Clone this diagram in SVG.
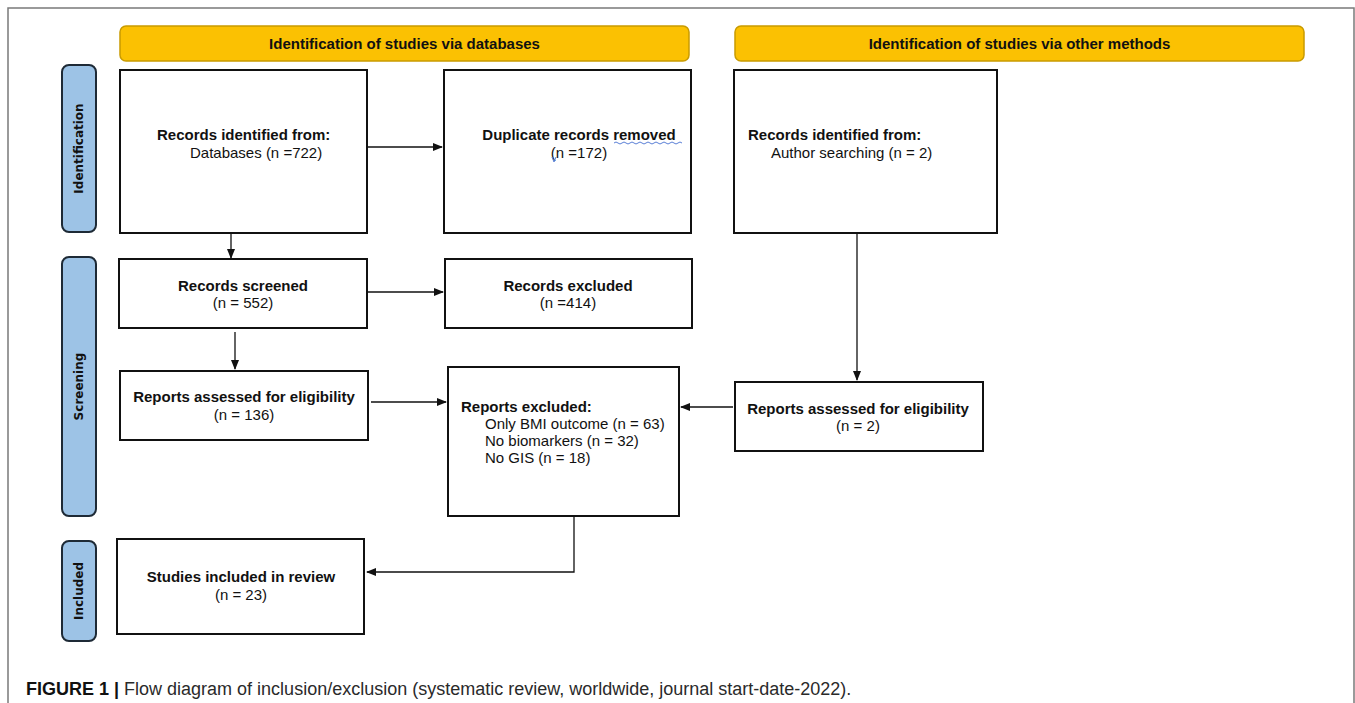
<svg xmlns="http://www.w3.org/2000/svg" width="1355" height="703" viewBox="0 0 1355 703">
<style>
.frame{fill:none;stroke:#7a7a7a;stroke-width:1.5}
.hdr{fill:#FBC102;stroke:#C99B00;stroke-width:1.5}
.side{fill:#9DC3E6;stroke:#1e2a36;stroke-width:2}
.box{fill:#fff;stroke:#111;stroke-width:2}
.con{fill:none;stroke:#111;stroke-width:1.3}
.t{font-family:"Liberation Sans",Arial,sans-serif;font-size:15px;fill:#111}
.b{font-weight:bold}
.m{text-anchor:middle}
.sl{font-family:"DejaVu Sans",sans-serif;font-size:12px;font-weight:bold;fill:#111;text-anchor:middle}
.cap{font-family:"Liberation Sans",Arial,sans-serif;font-size:18px;fill:#2a2a2a}
.sq{fill:none;stroke:#5a7fd6;stroke-width:1}
</style>
<defs>
<marker id="ah" markerWidth="10" markerHeight="8" refX="9" refY="4" orient="auto" markerUnits="userSpaceOnUse">
<path d="M0,0 L10,4 L0,8 z" fill="#111"/>
</marker>
</defs>
<rect width="1355" height="703" fill="#fff"/>
<path class="frame" d="M8,703 L8,8 L1354,8 L1354,703"/>

<g id="hdr-databases">
<rect class="hdr" x="120" y="26" width="569" height="35" rx="6"/>
<text class="t b m" x="404.5" y="49">Identification of studies via databases</text>
</g>
<g id="hdr-other">
<rect class="hdr" x="735" y="26" width="569" height="35" rx="6"/>
<text class="t b m" x="1019.5" y="49">Identification of studies via other methods</text>
</g>

<g id="side-identification">
<rect class="side" x="62" y="65" width="34" height="167" rx="7"/>
<text class="sl" x="79" y="152.5" transform="rotate(-90 79 148.5)">Identification</text>
</g>
<g id="side-screening">
<rect class="side" x="62" y="257" width="34" height="259" rx="7"/>
<text class="sl" x="79" y="390.5" transform="rotate(-90 79 386.5)">Screening</text>
</g>
<g id="side-included">
<rect class="side" x="62" y="541" width="34" height="100" rx="7"/>
<text class="sl" x="79" y="595" transform="rotate(-90 79 591)">Included</text>
</g>

<g id="records-identified">
<rect class="box" x="120" y="70" width="247" height="163"/>
<text class="t b" x="157" y="140">Records identified from:</text>
<text class="t" x="190" y="158">Databases (n =722)</text>
</g>
<g id="duplicates-removed">
<rect class="box" x="444" y="70" width="247" height="163"/>
<text class="t b m" x="579" y="140">Duplicate records removed</text>
<text class="t m" x="579" y="158">(n =172)</text>
<path class="sq" d="M614,143 q2,-2 4,0 t4,0 t4,0 t4,0 t4,0 t4,0 t4,0 t4,0 t4,0 t4,0 t4,0 t4,0 t4,0 t4,0 t4,0 t4,0 t4,0"/>
<path class="sq" d="M552,157 l2,5 l2,-5"/>
</g>
<g id="records-other">
<rect class="box" x="734" y="70" width="263" height="163"/>
<text class="t b" x="748" y="140">Records identified from:</text>
<text class="t" x="771" y="158">Author searching (n = 2)</text>
</g>
<g id="records-screened">
<rect class="box" x="119" y="259" width="248" height="69"/>
<text class="t b m" x="243" y="291">Records screened</text>
<text class="t m" x="243" y="308">(n = 552)</text>
</g>
<g id="records-excluded">
<rect class="box" x="445" y="259" width="247" height="69"/>
<text class="t b m" x="568" y="291">Records excluded</text>
<text class="t m" x="568" y="308">(n =414)</text>
</g>
<g id="reports-assessed-db">
<rect class="box" x="120" y="371" width="248" height="69"/>
<text class="t b m" x="244" y="402">Reports assessed for eligibility</text>
<text class="t m" x="244" y="420">(n = 136)</text>
</g>
<g id="reports-excluded">
<rect class="box" x="448" y="367" width="231" height="149"/>
<text class="t b" x="461" y="412">Reports excluded:</text>
<text class="t" x="485" y="429">Only BMI outcome (n = 63)</text>
<text class="t" x="485" y="446">No biomarkers (n = 32)</text>
<text class="t" x="485" y="463">No GIS (n = 18)</text>
</g>
<g id="reports-assessed-other">
<rect class="box" x="735" y="382" width="248" height="69"/>
<text class="t b m" x="858" y="414">Reports assessed for eligibility</text>
<text class="t m" x="858" y="431" fill="#333">(n = 2)</text>
</g>
<g id="studies-included">
<rect class="box" x="117" y="539" width="247" height="95"/>
<text class="t b m" x="241" y="582">Studies included in review</text>
<text class="t m" x="241" y="600">(n = 23)</text>
</g>

<g id="connectors">
<line class="con" x1="231" y1="233" x2="231" y2="258" marker-end="url(#ah)"/>
<line class="con" x1="367" y1="147" x2="442" y2="147" marker-end="url(#ah)"/>
<line class="con" x1="367" y1="292" x2="443" y2="292" marker-end="url(#ah)"/>
<line class="con" x1="235" y1="332" x2="235" y2="369" marker-end="url(#ah)"/>
<line class="con" x1="371" y1="402" x2="446" y2="402" marker-end="url(#ah)"/>
<line class="con" x1="857" y1="233" x2="857" y2="380" marker-end="url(#ah)"/>
<line class="con" x1="733" y1="407" x2="681" y2="407" marker-end="url(#ah)"/>
<polyline class="con" points="574,516 574,572 367,572" marker-end="url(#ah)"/>
</g>

<g id="caption">
<text class="cap" x="26" y="695"><tspan font-weight="bold" fill="#111">FIGURE 1 | </tspan>Flow diagram of inclusion/exclusion (systematic review, worldwide, journal start-date-2022).</text>
</g>
</svg>
